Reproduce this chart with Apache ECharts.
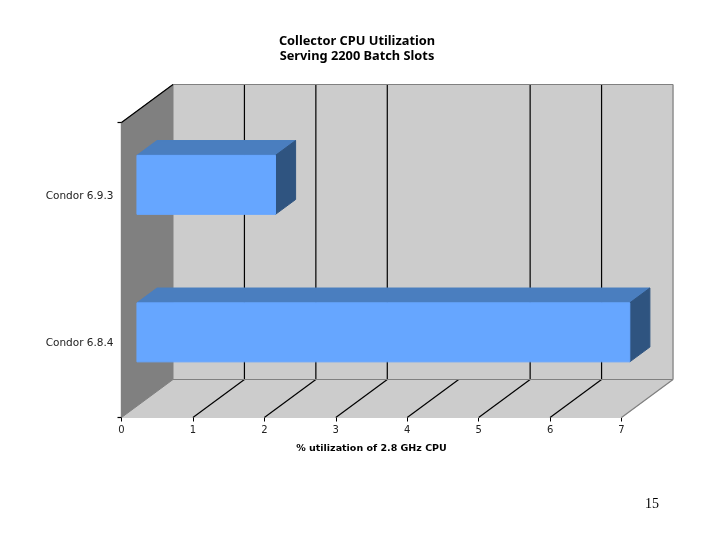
<!DOCTYPE html>
<html>
<head>
<meta charset="utf-8">
<title>Collector CPU Utilization</title>
<style>
html, body { margin: 0; padding: 0; background: #fff; }
#chart { width: 720px; height: 540px; }
</style>
<script src="https://cdn.jsdelivr.net/npm/echarts@6/dist/echarts.min.js"></script>
</head>
<body>
<div id="chart"></div>
<script>
const categories = ['Condor 6.8.4', 'Condor 6.9.3'];
const utilization = [6.9, 1.94];
const tickValues = [0, 1, 2, 3, 4, 5, 6, 7];
// the source chart has no back wall line at 4
const wallLines = [1, 2, 3, 5, 6];

// 3d look: how far the back wall sits from the front plane
const depthX = 51.5;
const depthY = -38;
const font = '"DejaVu Sans", sans-serif';

const chart = echarts.init(document.getElementById('chart'));

const line = (x1, y1, x2, y2, stroke) => ({
    type: 'line',
    shape: { x1, y1, x2, y2 },
    style: { stroke, lineWidth: 1.2 },
    silent: true,
});
const poly = (points, fill, stroke) => ({
    type: 'polygon',
    shape: { points },
    style: { fill, stroke: stroke || fill, lineWidth: 1 },
    silent: true,
});

// walls and floor, drawn once for the whole grid
const renderRoom = (params, api) => {
    const band = api.size([0, 1])[1];
    const x0 = api.coord([0, 0])[0];
    const x7 = api.coord([7, 0])[0];
    const y1 = api.coord([0, 0])[1] + band / 2;
    const y0 = api.coord([0, 1])[1] - band / 2;
    const children = [
        poly([[x0 + depthX, y0 + depthY], [x7 + depthX, y0 + depthY], [x7 + depthX, y1 + depthY], [x0 + depthX, y1 + depthY]], '#cccccc'),
        poly([[x0, y1], [x7, y1], [x7 + depthX, y1 + depthY], [x0 + depthX, y1 + depthY]], '#cccccc'),
        poly([[x0, y0], [x0 + depthX, y0 + depthY], [x0 + depthX, y1 + depthY], [x0, y1]], '#808080'),
    ];
    wallLines.forEach((v) => {
        const x = api.coord([v, 0])[0];
        children.push(line(x + depthX, y0 + depthY, x + depthX, y1 + depthY, '#000'));
    });
    tickValues.slice(1, -1).forEach((v) => {
        const x = api.coord([v, 0])[0];
        children.push(line(x, y1, x + depthX, y1 + depthY, '#000'));
    });
    children.push(line(x0 + depthX, y0 + depthY, x7 + depthX, y0 + depthY, '#808080'));
    children.push(line(x7 + depthX, y0 + depthY, x7 + depthX, y1 + depthY, '#808080'));
    children.push(line(x0 + depthX, y1 + depthY, x7 + depthX, y1 + depthY, '#808080'));
    children.push(line(x7, y1, x7 + depthX, y1 + depthY, '#808080'));
    children.push(line(x0, y0, x0 + depthX, y0 + depthY, '#000'));
    // only the two outer ticks on the category axis, none between the bands
    children.push(line(x0 - 4, y0, x0, y0, '#000'));
    children.push(line(x0 - 4, y1, x0, y1, '#000'));
    return { type: 'group', children };
};

const renderBar = (params, api) => {
    const band = api.size([0, 1])[1];
    const [xStart, yMid] = api.coord([0, api.value(1)]);
    const xEnd = api.coord([api.value(0), 0])[0];
    const ox = 0.3 * depthX;
    const oy = 0.3 * depthY;
    const dx = 0.39 * depthX;
    const dy = 0.39 * depthY;
    const left = xStart + ox;
    const right = xEnd + ox;
    const top = yMid + oy - band * 0.2;
    const bottom = yMid + oy + band * 0.2;
    return {
        type: 'group',
        children: [
            poly([[left, top], [right, top], [right + dx, top + dy], [left + dx, top + dy]], '#4a7ebf'),
            poly([[right, top], [right + dx, top + dy], [right + dx, bottom + dy], [right, bottom]], '#2f5480'),
            poly([[left, top], [right, top], [right, bottom], [left, bottom]], '#66a6ff'),
        ],
    };
};

chart.setOption({
    animation: false,
    backgroundColor: '#fff',
    title: {
        text: 'Collector CPU Utilization\nServing 2200 Batch Slots',
        left: 352,
        top: 29,
        textAlign: 'center',
        textStyle: { fontFamily: '"Noto Sans", sans-serif', fontSize: 12.8, fontWeight: 'bold', color: '#000', lineHeight: 15 },
    },
    grid: { left: 121.5, right: 98.5, top: 122.5, bottom: 122.5 },
    xAxis: {
        type: 'value',
        min: 0,
        max: 7,
        interval: 1,
        name: '% utilization of 2.8 GHz CPU',
        nameLocation: 'middle',
        nameGap: 26,
        nameTextStyle: { fontFamily: font, fontSize: 9.5, fontWeight: 'bold', color: '#000' },
        axisLine: { show: true, lineStyle: { color: '#000', width: 1.2 } },
        axisTick: { show: true, length: 4, lineStyle: { color: '#000' } },
        axisLabel: { fontFamily: font, fontSize: 10, color: '#222', margin: 8 },
        splitLine: { show: false },
    },
    yAxis: {
        type: 'category',
        data: categories,
        axisLine: { show: true, lineStyle: { color: '#000', width: 1.2 } },
        axisTick: { show: false },
        axisLabel: { fontFamily: font, fontSize: 10.5, color: '#222', margin: 8, padding: [4, 0, 0, 0] },
    },
    graphic: [{
        type: 'text',
        left: 645,
        top: 497,
        style: { text: '15', fontFamily: '"Liberation Serif", serif', fontSize: 14, fill: '#000' },
    }],
    series: [
        { type: 'custom', renderItem: renderRoom, data: [[0, 0]], z: 1, silent: true, clip: false },
        {
            type: 'custom',
            renderItem: renderBar,
            data: utilization.map((v, i) => [v, i]),
            encode: { x: 0, y: 1 },
            z: 2,
            silent: true,
        },
    ],
});
</script>
</body>
</html>
